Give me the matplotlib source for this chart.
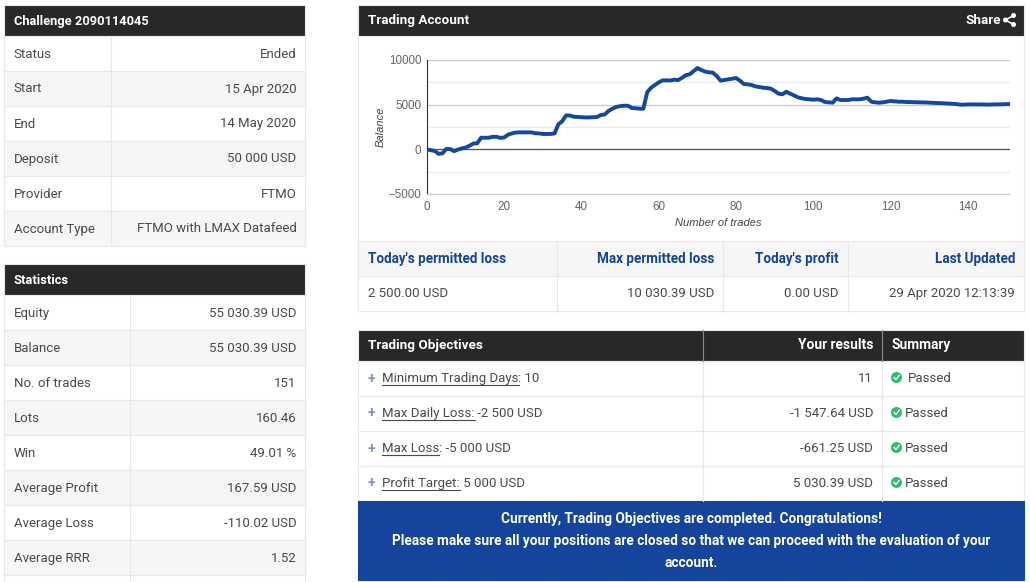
import matplotlib
matplotlib.use("Agg")
import matplotlib.pyplot as plt
from matplotlib.patches import Circle, Rectangle

BODY = "Roboto"
CHART = "Liberation Sans"

balance = [
    0, -100, -180, -500, -450, 50, 30, -200, -30, 100,
    200, 400, 650, 680, 1300, 1300, 1300, 1400, 1400, 1280,
    1330, 1650, 1780, 1880, 1900, 1900, 1900, 1900, 1800, 1780,
    1720, 1720, 1720, 1780, 2800, 3150, 3800, 3780, 3650, 3620,
    3580, 3570, 3570, 3600, 3620, 3850, 3900, 4300, 4550, 4750,
    4830, 4880, 4880, 4620, 4600, 4550, 4550, 6400, 6900, 7200,
    7500, 7720, 7720, 7700, 7800, 7750, 8000, 8300, 8400, 8750,
    9100, 8880, 8700, 8620, 8580, 8200, 7690, 7760, 7830, 7900,
    7980, 7690, 7310, 7280, 7200, 7050, 6980, 6900, 6860, 6790,
    6530, 6230, 6160, 6450, 6230, 6040, 5820, 5710, 5630, 5600,
    5560, 5600, 5520, 5300, 5260, 5220, 5710, 5520, 5520, 5520,
    5600, 5600, 5600, 5670, 5780, 5330, 5260, 5220, 5260, 5330,
    5410, 5370, 5330, 5330, 5300, 5290, 5270, 5260, 5260, 5240,
    5230, 5200, 5190, 5170, 5150, 5130, 5100, 5070, 5000, 5000,
    5030, 5030, 5030, 5030, 5020, 5000, 5020, 5030, 5030, 5040,
    5060, 5060,
]
trades = list(range(len(balance)))
x_ticks = [0, 20, 40, 60, 80, 100, 120, 140]
y_ticks = [-5000, 0, 5000, 10000]
y_minor = [-2500, 2500, 7500]

challenge_rows = [
    ("Status", "Ended"),
    ("Start", "15 Apr 2020"),
    ("End", "14 May 2020"),
    ("Deposit", "50 000 USD"),
    ("Provider", "FTMO"),
    ("Account Type", "FTMO with LMAX Datafeed"),
]
stats_rows = [
    ("Equity", "55 030.39 USD"),
    ("Balance", "55 030.39 USD"),
    ("No. of trades", "151"),
    ("Lots", "160.46"),
    ("Win", "49.01 %"),
    ("Average Profit", "167.59 USD"),
    ("Average Loss", "-110.02 USD"),
    ("Average RRR", "1.52"),
    ("", ""),
]
objective_rows = [
    ("Minimum Trading Days", ": 10", "11", 908),
    ("Max Daily Loss:", " -2 500 USD", "-1 547.64 USD", 905),
    ("Max Loss", ": -5 000 USD", "-661.25 USD", 905),
    ("Profit Target:", " 5 000 USD", "5 030.39 USD", 905),
]
limit_heads = ["Today's permitted loss", "Max permitted loss", "Today's profit", "Last Updated"]
limit_vals = ["2 500.00 USD", "10 030.39 USD", "0.00 USD", "29 Apr 2020 12:13:39"]

DARK = "#282828"
LINE = "#e8e8e8"
STRIPE = "#f6f6f6"
TEXT = "#4a4a4a"
BLUE = "#14449c"
LINK = "#14449c"

fig = plt.figure(figsize=(10.3, 5.82), dpi=100)
bg = fig.add_axes([0, 0, 1, 1])
bg.set_xlim(0, 1030)
bg.set_ylim(582, 0)
bg.axis("off")


def box(x0, y0, x1, y1, fc="white", ec=LINE, lw=0.8, z=1):
    bg.add_patch(Rectangle((x0, y0), x1 - x0, y1 - y0, fc=fc, ec=ec, lw=lw, zorder=z))


def label(x, y, s, ha="left", color=TEXT, size=9.55, weight="normal"):
    return bg.text(x, y + 1, s, ha=ha, va="center", color=color, fontsize=size,
                   fontweight=weight, family=BODY, zorder=5)


def side_table(title, rows, top, split):
    box(4, top, 305, top + 31, fc=DARK, ec=LINE)
    label(14, top + 15.5, title, color="white", size=9.3, weight="bold")
    y = top + 31
    for i, (name, value) in enumerate(rows):
        box(4, y, 305, y + 35, fc=STRIPE if i % 2 else "white")
        bg.plot([split, split], [y, y + 35], color=LINE, lw=0.8, zorder=2)
        label(13.5, y + 17.5, name)
        label(296.5, y + 17.5, value, ha="right")
        y += 35


side_table("Challenge 2090114045", challenge_rows, 4.5, 111)
side_table("Statistics", stats_rows, 264, 130)

# trading account panel
box(358, 5, 1024, 311)
box(358, 4.5, 1024, 35.5, fc=DARK)
label(368, 19.5, "Trading Account", color="white", size=9.7, weight="bold")
label(1001, 19.5, "Share", ha="right", color="white", size=9.7, weight="bold")
for cx, cy in [(1005.5, 20), (1013.5, 15.5), (1013.5, 24.5)]:
    bg.add_patch(Circle((cx, cy), 2.5, fc="white", ec="none", zorder=5))
    bg.plot([1005.5, cx], [20, cy], color="white", lw=1.1, zorder=5)

ax = fig.add_axes([427 / 1030, 1 - 194 / 582, (1010 - 427) / 1030, (194 - 60) / 582])
ax.set_xlim(0, 150.9)
ax.set_ylim(-5000, 10000)
ax.plot(trades, balance, color="#14489f", lw=2.8, solid_joinstyle="round", zorder=4)
ax.set_xticks(x_ticks)
ax.set_yticks(y_ticks)
ax.set_yticks(y_minor, minor=True)
ax.grid(True, axis="y", which="major", color="#cccccc", lw=0.9)
ax.grid(True, axis="y", which="minor", color="#ebebeb", lw=0.9)
ax.axhline(0, color="#555555", lw=0.9, zorder=3)
ax.tick_params(which="both", length=0)
ax.tick_params(labelsize=8.4, labelcolor="#666666", pad=5)
ax.tick_params(axis="y", pad=4)
for t in ax.get_xticklabels() + ax.get_yticklabels():
    t.set_family(CHART)
for side in ["top", "right"]:
    ax.spines[side].set_visible(False)
ax.spines["bottom"].set_color("#cccccc")
ax.spines["left"].set_color("#333333")
ax.set_xlabel("Number of trades", family=CHART, style="italic", fontsize=8, color="#444444", labelpad=4)
ax.set_ylabel("Balance", family=CHART, style="italic", fontsize=8, color="#444444", labelpad=2)

# limits table
box(358, 241, 1024, 276, fc=STRIPE)
box(358, 276, 1024, 311)
for x in [556.5, 722.5, 848]:
    bg.plot([x, x], [241, 311], color=LINE, lw=0.8, zorder=2)
head_x = [368, 714, 839, 1015]
head_ha = ["left", "right", "right", "right"]
for i in range(4):
    label(head_x[i], 257.5, limit_heads[i], ha=head_ha[i], color=LINK, weight="bold", size=9.75)
    label(head_x[i], 292.5, limit_vals[i], ha=head_ha[i])

# objectives table
box(358, 329.5, 1024, 360.5, fc=DARK)
label(368, 344, "Trading Objectives", color="white", size=9.7, weight="bold")
label(873, 344, "Your results", ha="right", color="white", size=9.9, weight="bold")
label(891, 344, "Summary", color="white", size=9.9, weight="bold")
for x in [703, 882]:
    bg.plot([x, x], [329.5, 360.5], color="#8a8a8a", lw=0.8, zorder=3)

y = 361
for link, rest, result, pass_x in objective_rows:
    box(358, y, 1024, y + 35)
    for x in [703, 882]:
        bg.plot([x, x], [y, y + 35], color=LINE, lw=0.8, zorder=2)
    mid = y + 16.5
    label(371, mid, "+", ha="center", color="#7f93b5", size=10, weight="bold")
    t = label(382, mid, link)
    fig.canvas.draw()
    bb = t.get_window_extent().transformed(bg.transData.inverted())
    bg.plot([bb.x0, bb.x1], [mid + 7, mid + 7], color=TEXT, lw=0.8, zorder=5)
    label(bb.x1, mid, rest)
    label(873, mid, result, ha="right")
    bg.add_patch(Circle((896.5, mid), 5.5, fc="#2ebd6b", ec="none", zorder=5))
    bg.plot([894, 896, 899.2], [mid, mid + 2, mid - 2.2], color="white", lw=1.0, zorder=6)
    label(pass_x, mid, "Passed")
    y += 35

box(358, 501, 1024, 579.5, fc=BLUE, ec=BLUE)
label(691, 518, "Currently, Trading Objectives are completed. Congratulations!", ha="center",
      color="white", weight="bold", size=9.8)
label(691, 540, "Please make sure all your positions are closed so that we can proceed with the evaluation of your",
      ha="center", color="white", weight="bold", size=9.8)
label(691, 562, "account.", ha="center", color="white", weight="bold", size=9.8)

fig.savefig("out.png", dpi=100)
